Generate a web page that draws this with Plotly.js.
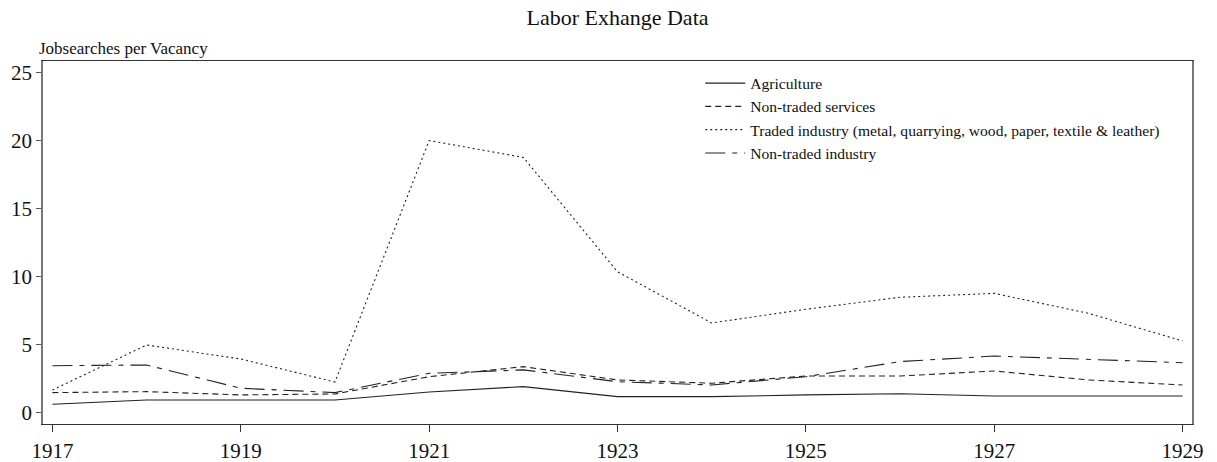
<!DOCTYPE html>
<html>
<head>
<meta charset="utf-8">
<script src="https://cdn.plot.ly/plotly-3.0.1.min.js"></script>
<style>html,body{margin:0;padding:0;background:#fff;}#chart{width:1217px;height:462px;}</style>
</head>
<body>
<div id="chart"></div>
<script>
const years = [1917,1918,1919,1920,1921,1922,1923,1924,1925,1926,1927,1928,1929];
const agriculture = [0.6,0.92,0.92,0.92,1.5,1.9,1.16,1.16,1.29,1.38,1.21,1.21,1.21];
const nonTradedServices = [1.46,1.53,1.29,1.36,2.63,3.37,2.39,2.15,2.68,2.68,3.05,2.39,2.02];
const tradedIndustry = [1.65,4.96,3.93,2.24,20.0,18.76,10.35,6.58,7.59,8.47,8.76,7.29,5.26];
const nonTradedIndustry = [3.44,3.49,1.78,1.46,2.88,3.13,2.26,2.02,2.63,3.74,4.15,3.91,3.66];
const seriesNames = ["Agriculture","Non-traded services","Traded industry (metal, quarrying, wood, paper, textile & leather)","Non-traded industry"];
const xTicks = [1917,1919,1921,1923,1925,1927,1929];
const yTicks = [0,5,10,15,20,25];

const font = "Liberation Serif, Times New Roman, serif";
const lineColor = "#222";
const dashes = ["solid","6px,4px","2px,3px","20px,7px,5px,7px"];
const data = [agriculture, nonTradedServices, tradedIndustry, nonTradedIndustry].map((v,i)=>({
  x: years, y: v, type: "scatter", mode: "lines", name: seriesNames[i],
  line: {color: lineColor, width: 1.1, dash: dashes[i]}
}));

const layout = {
  width: 1217, height: 462,
  margin: {l: 43, r: 25, t: 61, b: 38},
  paper_bgcolor: "#fff", plot_bgcolor: "#fff",
  font: {family: font, color: "#111"},
  title: {text: "Labor Exhange Data", font: {family: font, size: 22, color: "#111"}, xref: "paper", x: 0.5, xanchor: "center", y: 0.963, yanchor: "middle"},
  xaxis: {
    range: [1916.9, 1929.1], tickvals: xTicks, ticktext: xTicks.map(String),
    ticks: "outside", ticklen: 7, tickcolor: "#333", tickfont: {family: font, size: 21, color: "#111"},
    showgrid: false, zeroline: false, showline: true, linecolor: "#333", linewidth: 1.3, mirror: true
  },
  yaxis: {
    range: [-0.85, 25.85], tickvals: yTicks, ticktext: yTicks.map(String),
    ticks: "outside", ticklen: 5, tickcolor: "#555", tickfont: {family: font, size: 21, color: "#111"},
    showgrid: false, zeroline: false, showline: true, linecolor: "#777", linewidth: 1.8, mirror: true
  },
  annotations: [{
    text: "Jobsearches per Vacancy", xref: "paper", yref: "paper", x: -0.005, y: 1.0, xanchor: "left", yanchor: "bottom",
    yshift: 1, showarrow: false, font: {family: font, size: 17, color: "#111"}
  }],
  legend: {
    x: 0.572, y: 0.985, xanchor: "left", yanchor: "top", bgcolor: "rgba(0,0,0,0)",
    font: {family: font, size: 15.6, color: "#111"}, itemwidth: 40, tracegroupgap: 0
  },
  showlegend: true
};
Plotly.newPlot("chart", data, layout, {displayModeBar: false, staticPlot: true});
</script>
</body>
</html>
